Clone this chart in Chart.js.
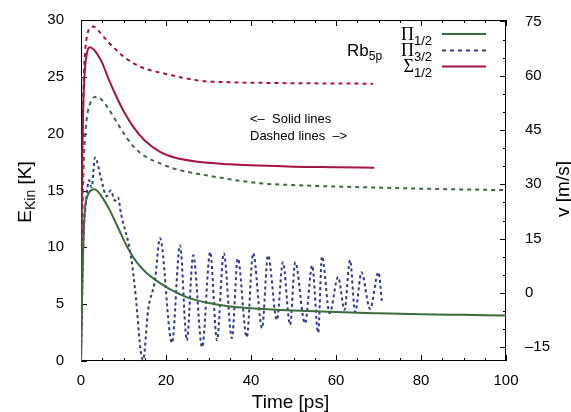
<!DOCTYPE html>
<html>
<head>
<meta charset="utf-8">
<script src="https://cdn.jsdelivr.net/npm/chart.js@4.4.1/dist/chart.umd.min.js"></script>
<style>
html,body{margin:0;padding:0;background:#fff}
#wrap{width:571px;height:412px}
</style>
</head>
<body>
<div id="wrap"><canvas id="chart" width="571" height="412"></canvas></div>
<script>

const xTicks=[0,20,40,60,80,100]
const leftTicks=[0,5,10,15,20,25,30]
const rightTicks=[-15,0,15,30,45,60,75]

// Pi 1/2 kinetic energy [K] (solid, left axis)
const pi12T=[0,0.15,0.3,0.5,0.9,1.5,2.3,3.2,4,5,6,7,8,9,10,11,12,13,15,18,21,25,30,35,40,50,60,70,80,90,100]
const pi12E=[0,3.5,6.5,9.7,13.2,14.5,15,15.1,14.9,14.4,13.8,13.1,12.3,11.5,10.7,9.95,9.3,8.75,7.9,7.0,6.3,5.6,5.1,4.8,4.65,4.45,4.3,4.2,4.12,4.06,4.0]

// Sigma 1/2 kinetic energy [K] (solid, left axis)
const sig12T=[0,0.1,0.25,0.5,0.9,1.4,2.1,3,4,5,6.5,8.4,10,12.3,15,18.6,22,28,35,42,50,60,69]
const sig12E=[0,8,16,22,25.5,27.1,27.6,27.4,26.9,26.2,24.8,23.2,22,20.6,19.4,18.4,17.9,17.5,17.3,17.2,17.1,17.05,17.0]

// Pi 1/2 velocity [m/s] (dashed, right axis)
const pi12vT=[0,0.15,0.4,0.8,1.4,2.2,3,3.7,5,6.5,8,10,12.3,15,18.6,22,30,42,50,60,70,80,90,100]
const pi12V=[-18.8,5,25,40,48.5,52.5,54,54.2,53.2,50.8,48,44.2,40.5,37.8,35.8,34.3,32.4,30.3,29.8,29.4,29.1,28.8,28.6,28.4]

// Sigma 1/2 velocity [m/s] (dashed, right axis)
const sig12vT=[0,0.1,0.3,0.6,1,1.5,2.2,2.9,4,5,6.5,8.4,10,12.3,15,20,28,35,45,55,68.7]
const sig12V=[-18.8,5,35,57,67,71.5,73.3,73.6,72.6,71.2,69.2,67,65.3,63.5,62,60.5,58.6,58.2,58,57.9,57.8]

// Pi 3/2 velocity [m/s] (dashed, right axis)
const pi32vT=[0,0.5,1.2,1.9,2.5,3.3,4.7,6,7,8,8.7,9.4,11.8,12.9,14.1,14.6,15.8,17.4,18.6,21.4,23.3,24.9,26.4,28.5,30.4,32,33.6,35.5,36.9,39,40.5,42.6,44,46.1,47.5,49.2,50.4,52.7,54.4,55.8,56.7,58.5,60.5,62,63.3,64.5,66,68,70,70.8]
const pi32V=[-18.8,12.6,25.5,31.1,29.2,37.4,31.8,26.7,28.3,25.5,26.4,22,9.8,-1.2,-16.6,-18.5,-4.7,3.5,15.1,-13.8,13.2,-13.1,10.4,-15,11.3,-13.1,11,-12.5,9.5,-12.2,11,-9.7,10.4,-7.5,8.5,-8.8,8.5,-8.4,7.6,-11,10.1,-5.6,4.4,-4.7,9.1,-5.3,5.7,-4.4,5.7,-2.5]

const green="#3c6b3c"
const red="#a3163f"
const blue="#2b3990"

const sans='"Liberation Sans", Arial, sans-serif'
const serif='"Liberation Serif", "Times New Roman", serif'

function pts(t,v){
return t.map((x,i)=>({x:x,y:v[i]}))
}

function drawParts(ctx,parts,x,y,align){
let w=0
parts.forEach(p=>{ctx.font=p[1];w+=ctx.measureText(p[0]).width})
let cx=align==="right"?x-w:align==="center"?x-w/2:x
parts.forEach(p=>{
ctx.font=p[1]
ctx.fillText(p[0],cx,y+p[2])
cx+=ctx.measureText(p[0]).width
})
}

const frame={
id:"frame",
beforeDatasetsDraw(chart){
const {ctx,chartArea:a,scales}=chart
ctx.save()
ctx.strokeStyle="#000"
ctx.lineWidth=1
ctx.strokeRect(a.left+0.5,a.top+0.5,a.right-a.left-1,a.bottom-a.top-1)
ctx.beginPath()
for(let v=0;v<=100;v+=5){
const px=Math.round(scales.x.getPixelForValue(v))+0.5
const len=v%20===0?6:3
ctx.moveTo(px,a.bottom);ctx.lineTo(px,a.bottom-len)
ctx.moveTo(px,a.top);ctx.lineTo(px,a.top+len)
}
leftTicks.forEach(v=>{
const py=Math.round(scales.y.getPixelForValue(v))+0.5
ctx.moveTo(a.left,py);ctx.lineTo(a.left+6,py)
})
for(let v=-15;v<=75;v+=5){
const py=Math.round(scales.y2.getPixelForValue(v))+0.5
const len=v%15===0?6:3
ctx.moveTo(a.right,py);ctx.lineTo(a.right-len,py)
}
ctx.stroke()
ctx.restore()
},
afterDraw(chart){
const {ctx,chartArea:a}=chart
ctx.save()
ctx.fillStyle="#000"
ctx.textBaseline="alphabetic"
ctx.textAlign="left"

// axis titles
ctx.font="19px "+sans
ctx.textAlign="center"
ctx.fillText("Time [ps]",a.left+(a.right-a.left)/2-3,408)
ctx.textAlign="left"

ctx.save()
ctx.translate(31,192)
ctx.rotate(-Math.PI/2)
drawParts(ctx,[["E","19px "+sans,0],["Kin","14px "+sans,4],[" [K]","19px "+sans,0]],0,0,"center")
ctx.restore()

ctx.save()
ctx.translate(569,189)
ctx.rotate(-Math.PI/2)
drawParts(ctx,[["v [m/s]","19px "+sans,0]],0,0,"center")
ctx.restore()

// legend
const names=["Π","Π","Σ"]
const subs=["1/2","3/2","1/2"]
const cols=[green,blue,red]
const dashes=[[],[4,4],[]]
const rows=[14,30.5,46.5]
rows.forEach((r,i)=>{
const yy=a.top+r
drawParts(ctx,[[names[i],"18px "+serif,0],[subs[i],"13px "+sans,5]],a.right-74,yy+5.5,"right")
ctx.save()
ctx.strokeStyle=cols[i]
ctx.lineWidth=2
ctx.setLineDash(dashes[i])
ctx.beginPath()
ctx.moveTo(a.right-64,yy)
ctx.lineTo(a.right-20,yy)
ctx.stroke()
ctx.restore()
})

drawParts(ctx,[["Rb","17px "+sans,0],["5p","12px "+sans,4]],a.left+266,a.top+36,"left")

ctx.font="13px "+sans
ctx.fillText("<–  Solid lines",a.left+169,a.top+103)
ctx.fillText("Dashed lines  –>",a.left+169,a.top+120)

ctx.restore()
}
}

const tickFont={family:sans,size:15}

new Chart(document.getElementById("chart"),{
type:"line",
data:{
datasets:[
{data:pts(pi12T,pi12E),yAxisID:"y",borderColor:green,borderWidth:2},
{data:pts(sig12T,sig12E),yAxisID:"y",borderColor:red,borderWidth:2},
{data:pts(pi12vT,pi12V),yAxisID:"y2",borderColor:green,borderWidth:2,borderDash:[4,4]},
{data:pts(sig12vT,sig12V),yAxisID:"y2",borderColor:red,borderWidth:2,borderDash:[4,4]},
{data:pts(pi32vT,pi32V),yAxisID:"y2",borderColor:blue,borderWidth:2,borderDash:[3,3]}
]
},
options:{
responsive:false,
animation:false,
devicePixelRatio:1,
layout:{padding:{top:19,left:0,right:0,bottom:0}},
elements:{
point:{radius:0},
line:{cubicInterpolationMode:"monotone",fill:false,borderCapStyle:"butt"}
},
plugins:{legend:{display:false},tooltip:{enabled:false}},
scales:{
x:{
type:"linear",min:0,max:100,
afterFit:s=>{s.height=51},
afterBuildTicks:s=>{s.ticks=xTicks.map(v=>({value:v}))},
ticks:{font:tickFont,color:"#000",padding:3,maxRotation:0,autoSkip:false},
grid:{display:false},border:{display:false}
},
y:{
type:"linear",position:"left",min:0,max:30,
afterFit:s=>{s.width=81},
afterBuildTicks:s=>{s.ticks=leftTicks.map(v=>({value:v}))},
ticks:{font:tickFont,color:"#000",padding:9},
grid:{display:false},border:{display:false}
},
y2:{
type:"linear",position:"right",min:-18.8,max:75.4,
afterFit:s=>{s.width=65},
afterBuildTicks:s=>{s.ticks=rightTicks.map(v=>({value:v}))},
ticks:{font:tickFont,color:"#000",padding:11,callback:v=>v<0?"–"+Math.abs(v):v},
grid:{display:false},border:{display:false}
}
}
},
plugins:[frame]
})

</script>
</body>
</html>
